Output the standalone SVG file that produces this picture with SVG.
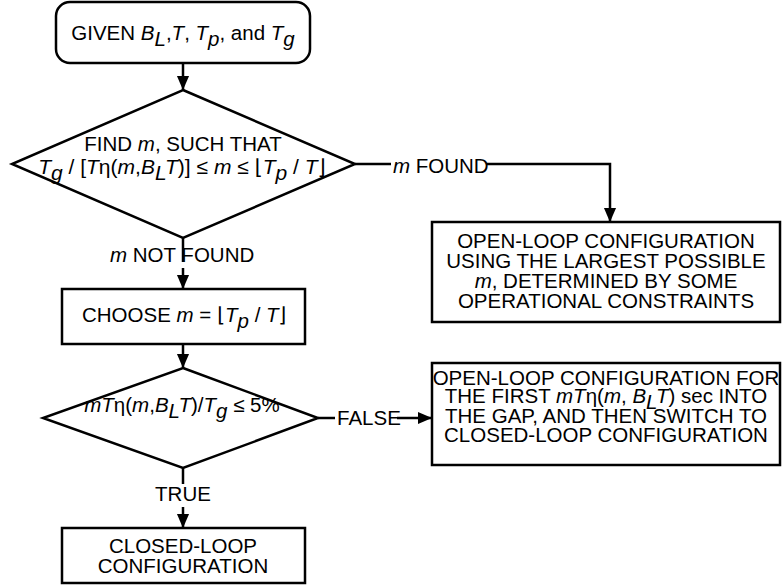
<svg xmlns="http://www.w3.org/2000/svg" width="783" height="588" viewBox="0 0 783 588">
<style>
.s{fill:#fff;stroke:#000;stroke-width:2.5}
.c{fill:none;stroke:#000;stroke-width:2.5}
text{font-family:"Liberation Sans",Arial,"DejaVu Sans",sans-serif;font-size:20.5px;fill:#000}
.m{text-anchor:middle}
.i{font-style:italic}
</style>
<defs>
<marker id="a" markerUnits="userSpaceOnUse" markerWidth="14" markerHeight="15" viewBox="0 0 15 14" refX="15" refY="7" orient="auto">
<path d="M0,0.5 L15,7 L0,13.5 Z" fill="#000"/>
</marker>
</defs>
<g id="connectors">
<line class="c" x1="183" y1="63" x2="183" y2="90" marker-end="url(#a)"/>
<polyline class="c" points="355,164 391,164"/>
<polyline class="c" points="486,164 610,164 610,222" marker-end="url(#a)"/>
<line class="c" x1="183" y1="238" x2="183" y2="262"/>
<line class="c" x1="183" y1="268" x2="183" y2="289" marker-end="url(#a)"/>
<line class="c" x1="183" y1="344" x2="183" y2="368" marker-end="url(#a)"/>
<line class="c" x1="318" y1="418" x2="335" y2="418"/>
<line class="c" x1="397" y1="418" x2="432" y2="418" marker-end="url(#a)"/>
<line class="c" x1="183" y1="468" x2="183" y2="484"/>
<line class="c" x1="183" y1="507" x2="183" y2="528" marker-end="url(#a)"/>
<text x="393" y="173"><tspan class="i">m</tspan> FOUND</text>
<text x="110" y="262"><tspan class="i">m</tspan> NOT FOUND</text>
<text x="337" y="425">FALSE</text>
<text x="183" y="501" class="m">TRUE</text>
</g>
<g id="start">
<rect class="s" x="56" y="2" width="254" height="61" rx="14"/>
<text x="183" y="40" class="m">GIVEN <tspan class="i">B</tspan><tspan class="i" dy="6">L</tspan><tspan dy="-6">,</tspan><tspan class="i">T</tspan>, <tspan class="i">T</tspan><tspan class="i" dy="6">p</tspan><tspan dy="-6">, and </tspan><tspan class="i">T</tspan><tspan class="i" dy="6">g</tspan></text>
</g>
<g id="find">
<polygon class="s" points="183,90 355,164 183,238 12,164"/>
<text x="183" y="151" class="m">FIND <tspan class="i">m</tspan>, SUCH THAT</text>
<text x="182" y="174" class="m" style="font-size:21px"><tspan class="i">T</tspan><tspan class="i" dy="6">g</tspan><tspan dy="-6"> / [</tspan><tspan class="i">T</tspan>η(<tspan class="i">m</tspan>,<tspan class="i">B</tspan><tspan class="i" dy="6">L</tspan><tspan class="i" dy="-6">T</tspan>)] ≤ <tspan class="i">m</tspan> ≤ ⌊<tspan class="i">T</tspan><tspan class="i" dy="6">p</tspan><tspan dy="-6"> / </tspan><tspan class="i">T</tspan>⌋</text>
</g>
<g id="openloop1">
<rect class="s" x="432" y="222" width="348" height="100"/>
<text x="606" y="248" class="m">OPEN-LOOP CONFIGURATION</text>
<text x="606" y="268" class="m">USING THE LARGEST POSSIBLE</text>
<text x="606" y="288" class="m"><tspan class="i">m</tspan>, DETERMINED BY SOME</text>
<text x="606" y="308" class="m">OPERATIONAL CONSTRAINTS</text>
</g>
<g id="choose">
<rect class="s" x="62" y="289" width="243" height="55"/>
<text x="82" y="322">CHOOSE <tspan class="i">m</tspan>   = ⌊<tspan class="i">T</tspan><tspan class="i" dy="6">p</tspan><tspan dy="-6"> / </tspan><tspan class="i">T</tspan>⌋</text>
</g>
<g id="check">
<polygon class="s" points="183,368 318,418 183,468 43,418"/>
<text x="182" y="412" class="m"><tspan class="i">mT</tspan>η(<tspan class="i">m</tspan>,<tspan class="i">B</tspan><tspan class="i" dy="6">L</tspan><tspan class="i" dy="-6">T</tspan>)/<tspan class="i">T</tspan><tspan class="i" dy="6">g</tspan><tspan dy="-6"> ≤ 5%</tspan></text>
</g>
<g id="openloop2">
<rect class="s" x="432" y="363" width="348" height="102"/>
<text x="606" y="385" class="m">OPEN-LOOP CONFIGURATION FOR</text>
<text x="606" y="403" class="m">THE FIRST <tspan class="i">mT</tspan>η(<tspan class="i">m</tspan>, <tspan class="i">B</tspan><tspan class="i" dy="6">L</tspan><tspan class="i" dy="-6">T</tspan>) sec INTO</text>
<text x="606" y="423" class="m">THE GAP, AND THEN SWITCH TO</text>
<text x="606" y="442" class="m">CLOSED-LOOP CONFIGURATION</text>
</g>
<g id="closed">
<rect class="s" x="62" y="528" width="243" height="55"/>
<text x="183" y="553" class="m">CLOSED-LOOP</text>
<text x="183" y="573" class="m">CONFIGURATION</text>
</g>
</svg>
